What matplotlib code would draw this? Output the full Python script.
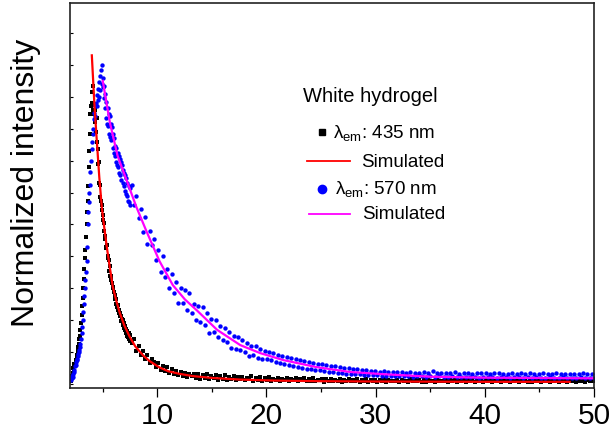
import numpy as np
import matplotlib
matplotlib.use("Agg")
import matplotlib.pyplot as plt
from matplotlib.ticker import MultipleLocator

plt.rcParams['font.family'] = ['Liberation Sans', 'DejaVu Sans']
plt.rcParams['mathtext.fontset'] = 'custom'
plt.rcParams['mathtext.rm'] = 'Liberation Sans'
plt.rcParams['mathtext.it'] = 'Liberation Sans:italic'

# time channels (ns): fine grid around the peak, coarser grid for the tail
t_fine = np.linspace(2.0, 7.52, 110)
t_tail = np.linspace(7.67, 50.0, 210)

# lambda_em 435 nm
blk_fine = [
    0.012, 0.016, 0.010, 0.020, 0.024, 0.035, 0.050, 0.040, 0.062, 0.055,
    0.075, 0.068, 0.090, 0.082, 0.105, 0.115, 0.125, 0.140, 0.150, 0.170,
    0.190, 0.215, 0.245, 0.270, 0.300, 0.330, 0.360, 0.395, 0.420, 0.460,
    0.500, 0.540, 0.575, 0.620, 0.680, 0.730, 0.785, 0.845, 0.870, 0.915,
    0.880, 0.935, 0.860, 0.875, 0.845, 0.860, 0.820, 0.790, 0.835, 0.760,
    0.735, 0.690, 0.695, 0.630, 0.625, 0.585, 0.575, 0.560, 0.545, 0.530,
    0.515, 0.480, 0.505, 0.455, 0.465, 0.430, 0.425, 0.435, 0.395, 0.400,
    0.390, 0.355, 0.370, 0.340, 0.338, 0.325, 0.318, 0.305, 0.302, 0.290,
    0.288, 0.265, 0.280, 0.250, 0.268, 0.240, 0.248, 0.232, 0.232, 0.222,
    0.222, 0.212, 0.212, 0.198, 0.205, 0.185, 0.200, 0.175, 0.190, 0.168,
    0.182, 0.160, 0.174, 0.152, 0.166, 0.146, 0.160, 0.140, 0.155, 0.136,
]
blk_tail = [
    0.128, 0.142, 0.105, 0.118, 0.090, 0.104, 0.078, 0.092, 0.066, 0.080,
    0.070, 0.052, 0.066, 0.045, 0.058, 0.040, 0.052, 0.034, 0.047, 0.030,
    0.042, 0.028, 0.038, 0.026, 0.036, 0.022, 0.033, 0.024, 0.030, 0.020,
    0.030, 0.017, 0.027, 0.020, 0.032, 0.016, 0.025, 0.018, 0.028, 0.014,
    0.024, 0.015, 0.027, 0.013, 0.022, 0.017, 0.025, 0.012, 0.021, 0.016,
    0.022, 0.012, 0.019, 0.015, 0.024, 0.011, 0.018, 0.014, 0.021, 0.010,
    0.018, 0.013, 0.021, 0.009, 0.017, 0.014, 0.020, 0.010, 0.016, 0.012,
    0.019, 0.009, 0.015, 0.013, 0.018, 0.008, 0.016, 0.012, 0.019, 0.010,
    0.015, 0.011, 0.018, 0.008, 0.014, 0.012, 0.017, 0.007, 0.015, 0.011,
    0.016, 0.008, 0.013, 0.011, 0.017, 0.007, 0.014, 0.010, 0.016, 0.008,
    0.013, 0.010, 0.015, 0.006, 0.014, 0.011, 0.016, 0.007, 0.012, 0.010,
    0.014, 0.007, 0.012, 0.010, 0.015, 0.006, 0.013, 0.009, 0.011, 0.008,
    0.013, 0.006, 0.014, 0.009, 0.011, 0.007, 0.015, 0.008, 0.012, 0.010,
    0.012, 0.007, 0.014, 0.006, 0.013, 0.010, 0.011, 0.005, 0.014, 0.009,
    0.011, 0.008, 0.013, 0.006, 0.012, 0.009, 0.014, 0.007, 0.010, 0.011,
    0.013, 0.005, 0.012, 0.009, 0.014, 0.007, 0.011, 0.008, 0.013, 0.006,
    0.012, 0.009, 0.014, 0.006, 0.011, 0.008, 0.013, 0.005, 0.012, 0.010,
    0.010, 0.007, 0.013, 0.009, 0.012, 0.005, 0.014, 0.008, 0.011, 0.007,
    0.013, 0.006, 0.012, 0.009, 0.010, 0.007, 0.014, 0.008, 0.011, 0.006,
    0.012, 0.008, 0.013, 0.005, 0.011, 0.009, 0.014, 0.007, 0.012, 0.008,
    0.013, 0.006, 0.011, 0.009, 0.014, 0.007, 0.012, 0.010, 0.011, 0.008,
]

# lambda_em 570 nm
blu_fine = [
    0.015, 0.012, 0.020, 0.018, 0.025, 0.022, 0.030, 0.038, 0.045, 0.055,
    0.060, 0.068, 0.075, 0.080, 0.088, 0.095, 0.100, 0.108, 0.115, 0.125,
    0.140, 0.160, 0.180, 0.200, 0.225, 0.250, 0.275, 0.300, 0.325, 0.350,
    0.385, 0.430, 0.500, 0.540, 0.570, 0.600, 0.625, 0.665, 0.700, 0.735,
    0.760, 0.785, 0.800, 0.830, 0.850, 0.870, 0.840, 0.880, 0.905, 0.870,
    0.925, 0.890, 0.945, 0.900, 0.965, 0.920, 0.985, 0.940, 1.000, 0.930,
    0.960, 0.895, 0.935, 0.865, 0.910, 0.835, 0.885, 0.815, 0.865, 0.810,
    0.845, 0.785, 0.840, 0.775, 0.815, 0.765, 0.805, 0.740, 0.785, 0.725,
    0.770, 0.715, 0.745, 0.695, 0.740, 0.685, 0.725, 0.680, 0.715, 0.660,
    0.705, 0.655, 0.695, 0.640, 0.685, 0.630, 0.670, 0.620, 0.660, 0.605,
    0.655, 0.595, 0.645, 0.590, 0.630, 0.575, 0.620, 0.570, 0.615, 0.560,
]
blu_tail = [
    0.625, 0.560, 0.590, 0.520, 0.550, 0.475, 0.525, 0.440, 0.480, 0.435,
    0.455, 0.390, 0.420, 0.350, 0.400, 0.335, 0.360, 0.300, 0.345, 0.285,
    0.320, 0.255, 0.300, 0.255, 0.295, 0.233, 0.285, 0.223, 0.252, 0.202,
    0.246, 0.194, 0.242, 0.185, 0.223, 0.161, 0.205, 0.163, 0.202, 0.147,
    0.182, 0.137, 0.177, 0.132, 0.163, 0.113, 0.152, 0.110, 0.148, 0.107,
    0.139, 0.101, 0.129, 0.088, 0.120, 0.090, 0.120, 0.083, 0.109, 0.077,
    0.105, 0.078, 0.101, 0.074, 0.097, 0.070, 0.092, 0.066, 0.088, 0.064,
    0.086, 0.060, 0.083, 0.057, 0.079, 0.054, 0.076, 0.050, 0.072, 0.048,
    0.068, 0.047, 0.066, 0.044, 0.064, 0.043, 0.062, 0.041, 0.060, 0.039,
    0.057, 0.038, 0.055, 0.036, 0.053, 0.034, 0.051, 0.033, 0.049, 0.031,
    0.047, 0.031, 0.046, 0.030, 0.044, 0.029, 0.043, 0.028, 0.042, 0.027,
    0.040, 0.027, 0.039, 0.026, 0.041, 0.025, 0.037, 0.026, 0.038, 0.024,
    0.037, 0.025, 0.039, 0.024, 0.036, 0.026, 0.038, 0.023, 0.035, 0.025,
    0.036, 0.024, 0.037, 0.023, 0.035, 0.025, 0.040, 0.022, 0.034, 0.024,
    0.035, 0.023, 0.036, 0.022, 0.034, 0.024, 0.037, 0.021, 0.033, 0.023,
    0.034, 0.022, 0.036, 0.021, 0.033, 0.023, 0.035, 0.020, 0.034, 0.022,
    0.035, 0.021, 0.033, 0.022, 0.034, 0.020, 0.036, 0.021, 0.032, 0.022,
    0.033, 0.020, 0.035, 0.021, 0.032, 0.022, 0.034, 0.019, 0.033, 0.021,
    0.034, 0.020, 0.032, 0.021, 0.033, 0.019, 0.035, 0.020, 0.031, 0.022,
    0.032, 0.020, 0.034, 0.019, 0.033, 0.021, 0.031, 0.020, 0.033, 0.019,
    0.033, 0.019, 0.032, 0.021, 0.034, 0.020, 0.031, 0.019, 0.032, 0.020,
]

# simulated (fit) curves
sim435_t = [4.00, 4.23, 4.45, 4.68, 4.91, 5.14, 5.37, 5.65, 5.92, 6.25, 6.56, 6.96, 7.47,
            7.98, 8.69, 9.29, 10.20, 11.02, 12.03, 13.24, 15.07, 17.60, 20.64, 24.69,
            29.75, 39.88, 47.78]
sim435_y = [1.03, 0.88, 0.765, 0.65, 0.555, 0.49, 0.43, 0.365, 0.305, 0.26, 0.223, 0.185, 0.148,
            0.118, 0.09, 0.072, 0.052, 0.04, 0.032, 0.025, 0.019, 0.014, 0.011, 0.009,
            0.008, 0.007, 0.007]
sim570_t = [5.00, 5.65, 6.36, 7.17, 8.08, 8.99, 10.20, 11.42, 12.53, 13.65, 15.47, 17.60,
            19.42, 21.55, 24.59, 27.63, 30.66, 35.02, 39.88, 44.94, 50.0]
sim570_y = [0.95, 0.82, 0.715, 0.64, 0.555, 0.48, 0.385, 0.31, 0.265, 0.23, 0.17, 0.122,
            0.097, 0.075, 0.053, 0.038, 0.031, 0.023, 0.02, 0.019, 0.018]

t = np.concatenate([t_fine, t_tail])
blk = np.array(blk_fine + blk_tail)
blu = np.array(blu_fine + blu_tail)

fig = plt.figure(figsize=(6.14, 4.36), dpi=100)
ax = fig.add_axes([0.114, 0.110, 0.8534, 0.8831])

ax.scatter(t, blk, s=9, marker='s', color='black', linewidths=0)
ax.plot(sim435_t, sim435_y, color='#ff0000', lw=1.6)
ax.scatter(t, blu, s=10, marker='o', color='#0000ff', linewidths=0)
ax.plot(sim570_t, sim570_y, color='#ff00ff', lw=1.6)

ax.set_xlim(2, 50)
ax.set_ylim(-0.0125, 1.194)
ax.set_xticks([10, 20, 30, 40, 50])
ax.xaxis.set_minor_locator(MultipleLocator(5))
ax.set_yticks(np.arange(0, 1.15, 0.1))
ax.tick_params(axis='x', which='major', direction='out', length=6.5, width=0.9,
               labelsize=21.5, pad=3.5)
ax.tick_params(axis='x', which='minor', direction='out', length=3, width=0.9)
ax.tick_params(axis='y', direction='in', length=2.5, width=0.8, labelleft=False)
for s in ax.spines.values():
    s.set_linewidth(1.2)
    s.set_color('#222222')

ax.set_ylabel('Normalized intensity', fontsize=23)
ax.yaxis.set_label_coords(-0.056, 0.532)

# legend drawn by hand to keep the staggered layout
tr = ax.transAxes
ax.text(0.445, 0.744, 'White hydrogel', transform=tr, fontsize=14.5, va='baseline')
ax.plot([0.480], [0.666], marker='s', ms=5, color='black', transform=tr, clip_on=False)
ax.text(0.502, 0.6486, r'$\mathrm{\lambda_{em}}$: 435 nm', transform=tr, fontsize=13.5,
        va='baseline')
ax.plot([0.4517, 0.5344], [0.5896, 0.5896], color='#ff0000', lw=1.3, transform=tr)
ax.text(0.5548, 0.575, 'Simulated', transform=tr, fontsize=13.5, va='baseline')
ax.plot([0.480], [0.516], marker='o', ms=6, color='#0000ff', transform=tr, clip_on=False)
ax.text(0.5057, 0.503, r'$\mathrm{\lambda_{em}}$: 570 nm', transform=tr, fontsize=13.5,
        va='baseline')
ax.plot([0.4557, 0.5353], [0.452, 0.452], color='#ff00ff', lw=1.3, transform=tr)
ax.text(0.5567, 0.438, 'Simulated', transform=tr, fontsize=13.5, va='baseline')

fig.savefig('out.png', dpi=100)
